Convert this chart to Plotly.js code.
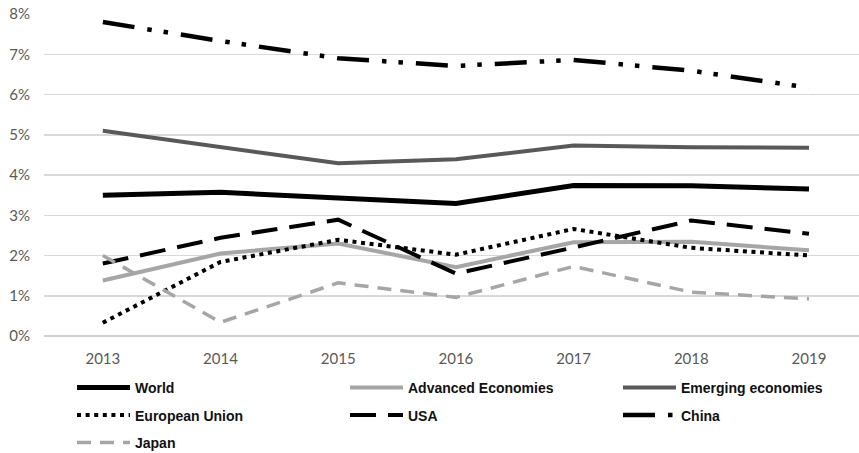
<!DOCTYPE html>
<html>
<head>
<meta charset="utf-8">
<script src="https://cdn.plot.ly/plotly-3.0.1.min.js"></script>
<style>
  html, body { margin: 0; padding: 0; background: #fff; }
  #chart { width: 859px; height: 453px; }
</style>
</head>
<body>
<div id="chart"></div>
<script>
// ---- data (percent growth) ----
const years = ['2013', '2014', '2015', '2016', '2017', '2018', '2019'];
const world     = [3.50, 3.57, 3.43, 3.29, 3.74, 3.73, 3.65];
const advanced  = [1.38, 2.05, 2.30, 1.71, 2.33, 2.34, 2.13];
const emerging  = [5.10, 4.70, 4.29, 4.39, 4.73, 4.69, 4.68];
const eu        = [0.33, 1.84, 2.39, 2.02, 2.66, 2.19, 2.00];
const usa       = [1.80, 2.44, 2.89, 1.55, 2.20, 2.87, 2.54];
const china     = [7.80, 7.33, 6.90, 6.71, 6.86, 6.59, 6.17];
const japan     = [2.00, 0.34, 1.32, 0.96, 1.73, 1.09, 0.92];
const yTicks    = [0, 1, 2, 3, 4, 5, 6, 7, 8];

const series = [
  {name: 'World',               y: world,    color: '#000000', width: 5,   dash: 'solid',                          legend: 'legend'},
  {name: 'Advanced Economies',  y: advanced, color: '#a6a6a6', width: 4,   dash: 'solid',                          legend: 'legend'},
  {name: 'Emerging economies',  y: emerging, color: '#595959', width: 4,   dash: 'solid',                          legend: 'legend'},
  {name: 'European Union',      y: eu,       color: '#000000', width: 4,   dash: '4px,4.6px',                      legend: 'legend2'},
  {name: 'USA',                 y: usa,      color: '#000000', width: 4,   dash: '26px,12px',                      legend: 'legend2'},
  {name: 'China',               y: china,    color: '#000000', width: 4.5, dash: '32px,13px,4.5px,12px,4.5px,13px', legend: 'legend2'},
  {name: 'Japan',               y: japan,    color: '#a6a6a6', width: 3.5, dash: '14px,9px',                       legend: 'legend3'}
];

const traces = series.map(s => ({
  type: 'scatter',
  mode: 'lines',
  name: s.name,
  x: years,
  y: s.y,
  legend: s.legend,
  line: {color: s.color, width: s.width, dash: s.dash},
  hoverinfo: 'skip'
}));

const plotW = 815, plotH = 322, mL = 44, mT = 14;
function legendRow(yPix) {
  return {
    orientation: 'h',
    x: (72 - mL) / plotW,
    xanchor: 'left',
    y: (mT + plotH - yPix) / plotH,
    yanchor: 'middle',
    entrywidth: 205,
    itemwidth: 53,
    bgcolor: 'rgba(0,0,0,0)',
    font: {family: 'Liberation Sans, Arial, sans-serif', size: 14, color: '#111111', weight: 'bold'},
    traceorder: 'normal'
  };
}

const layout = {
  width: 859,
  height: 453,
  margin: {l: mL, r: 0, t: mT, b: 453 - mT - plotH, autoexpand: false},
  paper_bgcolor: '#ffffff',
  plot_bgcolor: '#ffffff',
  showlegend: true,
  xaxis: {
    type: 'category',
    range: [-0.5, 6.425],
    showgrid: false,
    zeroline: false,
    showline: false,
    ticks: '',
    ticklabelstandoff: 12,
    tickfont: {family: 'Lato, Carlito, sans-serif', size: 15, color: '#595959'},
    fixedrange: true
  },
  yaxis: {
    range: [0, 8],
    tickvals: yTicks,
    ticktext: yTicks.map(v => v + '%'),
    showgrid: true,
    gridcolor: '#d9d9d9',
    gridwidth: 1.5,
    zeroline: true,
    zerolinecolor: '#d0d0d0',
    zerolinewidth: 1.5,
    showline: false,
    ticks: '',
    ticklabelstandoff: 13,
    tickfont: {family: 'Lato, Carlito, sans-serif', size: 15, color: '#595959'},
    fixedrange: true
  },
  legend: legendRow(388),
  legend2: legendRow(415.5),
  legend3: legendRow(443)
};

Plotly.newPlot('chart', traces, layout, {displayModeBar: false, staticPlot: true});
</script>
</body>
</html>
